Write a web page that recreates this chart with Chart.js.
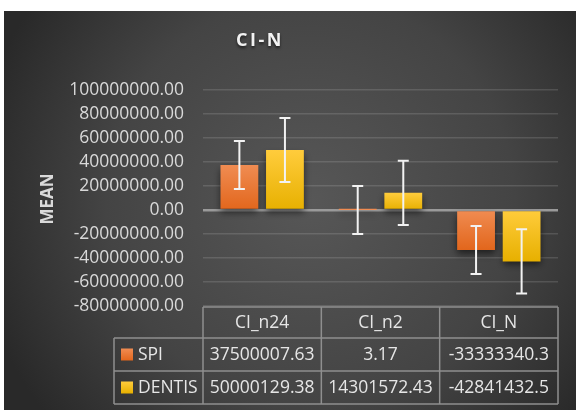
<!DOCTYPE html>
<html>
<head>
<meta charset="utf-8">
<script src="https://cdn.jsdelivr.net/npm/chart.js@4.4.1/dist/chart.umd.min.js"></script>
<style>
  html, body { margin: 0; padding: 0; background: #fff; }
  #wrap { position: absolute; left: 0; top: 0; width: 576px; height: 410px; }
</style>
</head>
<body>
<div id="wrap"><canvas id="myChart" width="576" height="410"></canvas></div>
<script>
// data
var categories = ["CI_n24", "CI_n2", "CI_N"];
var seriesNames = ["SPI", "DENTIS"];
var spiValues = [37500007.63, 3.17, -33333340.3];
var dentisValues = [50000129.38, 14301572.43, -42841432.5];
var spiLabels = ["37500007.63", "3.17", "-33333340.3"];
var dentisLabels = ["50000129.38", "14301572.43", "-42841432.5"];
var spiErrors = [20000000, 20000000, 20000000];
var dentisErrors = [26700000, 26700000, 26700000];
var yTicks = [100000000, 80000000, 60000000, 40000000, 20000000, 0, -20000000, -40000000, -60000000, -80000000];

var FONT = "'Open Sans', 'Liberation Sans', sans-serif";
var orangeTop = "#f08c52", orangeBot = "#e2661c";
var yellowTop = "#ffcc3c", yellowBot = "#e7b000";

function barGradient(top, bot) {
  return function(c) {
    var chart = c.chart;
    if (!chart.chartArea || c.raw === undefined) return top;
    var y = chart.scales.y;
    var y1 = y.getPixelForValue(Math.max(c.raw, 0));
    var y2 = y.getPixelForValue(Math.min(c.raw, 0));
    if (y2 - y1 < 1) y2 = y1 + 1;
    var g = chart.ctx.createLinearGradient(0, y1, 0, y2);
    g.addColorStop(0, top);
    g.addColorStop(1, bot);
    return g;
  };
}

// background, title, axis title
var backPlugin = {
  id: "back",
  beforeDraw: function(chart) {
    var ctx = chart.ctx;
    ctx.save();
    ctx.fillStyle = "#ffffff";
    ctx.fillRect(0, 0, chart.width, chart.height);
    var g = ctx.createRadialGradient(310, 200, 0, 310, 200, 340);
    g.addColorStop(0, "#575757");
    g.addColorStop(0.6, "#444444");
    g.addColorStop(1, "#292929");
    ctx.fillStyle = g;
    ctx.fillRect(4, 11, chart.width - 4, chart.height - 11);

    ctx.shadowColor = "rgba(0,0,0,0.6)";
    ctx.shadowBlur = 3;
    ctx.shadowOffsetY = 2;
    ctx.fillStyle = "#f2f2f2";
    ctx.font = "bold 18px " + FONT;
    ctx.letterSpacing = "2.5px";
    ctx.textAlign = "center";
    ctx.textBaseline = "middle";
    ctx.fillText("CI-N", 260, 41);
    ctx.letterSpacing = "0px";
    ctx.shadowColor = "transparent";

    ctx.translate(48, 199);
    ctx.rotate(-Math.PI / 2);
    ctx.fillStyle = "#d9d9d9";
    ctx.font = "bold 17px " + FONT;
    ctx.fillText("MEAN", 0, 0);
    ctx.restore();
  }
};

var shadowPlugin = {
  id: "barShadow",
  beforeDatasetsDraw: function(chart) {
    var ctx = chart.ctx;
    ctx.save();
    ctx.shadowColor = "rgba(0,0,0,0.55)";
    ctx.shadowBlur = 7;
    ctx.shadowOffsetY = 4;
  },
  afterDatasetsDraw: function(chart) {
    chart.ctx.restore();
  }
};

// error bars, drawn from the y scale
var errorPlugin = {
  id: "errors",
  afterDatasetsDraw: function(chart) {
    var ctx = chart.ctx;
    var y = chart.scales.y;
    var errs = [spiErrors, dentisErrors];
    var vals = [spiValues, dentisValues];
    ctx.save();
    ctx.strokeStyle = "#f2f2f2";
    ctx.lineWidth = 2;
    for (var d = 0; d < 2; d++) {
      var meta = chart.getDatasetMeta(d);
      for (var i = 0; i < meta.data.length; i++) {
        var bx = meta.data[i].x;
        var yt = y.getPixelForValue(vals[d][i] + errs[d][i]);
        var yb = y.getPixelForValue(vals[d][i] - errs[d][i]);
        ctx.beginPath();
        ctx.moveTo(bx, yt); ctx.lineTo(bx, yb);
        ctx.moveTo(bx - 5.5, yt); ctx.lineTo(bx + 5.5, yt);
        ctx.moveTo(bx - 5.5, yb); ctx.lineTo(bx + 5.5, yb);
        ctx.stroke();
      }
    }
    ctx.restore();
  }
};

// data table under the plot
var tablePlugin = {
  id: "dataTable",
  afterDraw: function(chart) {
    var ctx = chart.ctx;
    var x = chart.scales.x;
    var half = x.width / categories.length / 2;
    var top = chart.chartArea.bottom + 1;
    var rows = [top, top + 31, top + 64, top + 97];
    var labLeft = 114;
    var right = x.right;
    var cols = [];
    for (var i = 0; i < categories.length; i++) cols.push(x.getPixelForValue(i) - half);
    cols.push(right);

    ctx.save();
    ctx.strokeStyle = "#8f8f8f";
    ctx.lineWidth = 1.5;
    ctx.beginPath();
    ctx.moveTo(cols[0], rows[0]); ctx.lineTo(right, rows[0]);
    ctx.moveTo(labLeft, rows[1]); ctx.lineTo(right, rows[1]);
    ctx.moveTo(labLeft, rows[2]); ctx.lineTo(right, rows[2]);
    ctx.moveTo(labLeft, rows[3]); ctx.lineTo(right, rows[3]);
    ctx.moveTo(labLeft, rows[1]); ctx.lineTo(labLeft, rows[3]);
    for (var c = 0; c < cols.length; c++) {
      ctx.moveTo(cols[c], rows[0]); ctx.lineTo(cols[c], rows[3]);
    }
    ctx.stroke();

    ctx.fillStyle = "#e6e6e6";
    ctx.font = "17.5px " + FONT;
    ctx.textAlign = "center";
    ctx.textBaseline = "middle";
    var texts = [categories, spiLabels, dentisLabels];
    for (var r = 0; r < 3; r++) {
      for (var k = 0; k < categories.length; k++) {
        ctx.fillText(texts[r][k], (cols[k] + cols[k + 1]) / 2, (rows[r] + rows[r + 1]) / 2 + 1);
      }
    }

    var keys = [[orangeTop, orangeBot], [yellowTop, yellowBot]];
    for (var s = 0; s < 2; s++) {
      var cy = (rows[s + 1] + rows[s + 2]) / 2;
      var g = ctx.createLinearGradient(0, cy - 6, 0, cy + 6);
      g.addColorStop(0, keys[s][0]);
      g.addColorStop(1, keys[s][1]);
      ctx.fillStyle = g;
      ctx.fillRect(labLeft + 7, cy - 6, 12, 12);
      ctx.fillStyle = "#e6e6e6";
      ctx.textAlign = "left";
      ctx.fillText(seriesNames[s], labLeft + 24, cy + 1);
    }
    ctx.restore();
  }
};

const ctx = document.getElementById("myChart");

const myChart = new Chart(ctx, {
  type: "bar",
  data: {
    labels: categories,
    datasets: [
      {
        label: seriesNames[0],
        data: spiValues,
        backgroundColor: barGradient(orangeTop, orangeBot),
        categoryPercentage: 0.77,
        barPercentage: 0.83
      },
      {
        label: seriesNames[1],
        data: dentisValues,
        backgroundColor: barGradient(yellowTop, yellowBot),
        categoryPercentage: 0.77,
        barPercentage: 0.83
      }
    ]
  },
  options: {
    responsive: false,
    animation: false,
    layout: { padding: { top: 90, bottom: 104, right: 18, left: 0 } },
    plugins: {
      legend: { display: false },
      tooltip: { enabled: false },
      title: { display: false }
    },
    scales: {
      x: { display: false },
      y: {
        min: -80000000,
        max: 100000000,
        afterFit: function(scale) { scale.width = 203; },
        afterBuildTicks: function(scale) {
          scale.ticks = yTicks.map(function(v) { return { value: v }; });
        },
        border: { display: false },
        grid: {
          drawTicks: false,
          color: function(c) { return c.tick && c.tick.value === 0 ? "#9a9a9a" : "rgba(255,255,255,0.13)"; },
          lineWidth: function(c) { return c.tick && c.tick.value === 0 ? 2.5 : 1.5; }
        },
        ticks: {
          padding: 19,
          color: "#d9d9d9",
          font: { family: FONT, size: 17.5 },
          callback: function(v) { return Number(v).toFixed(2); }
        }
      }
    }
  },
  plugins: [backPlugin, shadowPlugin, errorPlugin, tablePlugin]
});
</script>
</body>
</html>
